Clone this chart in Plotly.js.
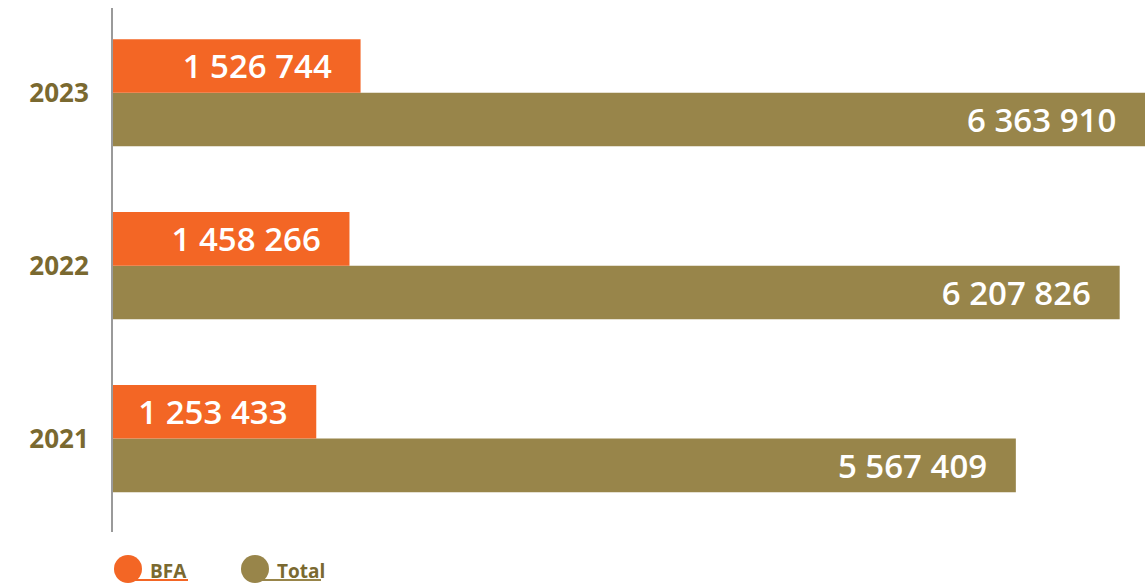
<!DOCTYPE html>
<html>
<head>
<meta charset="utf-8">
<script src="https://cdn.plot.ly/plotly-3.0.1.min.js"></script>
<style>html,body{margin:0;padding:0;background:#fff;}#chart{width:1145px;height:584px;}</style>
</head>
<body>
<div id="chart"></div>
<script>
const years = ['2021', '2022', '2023'];
const bfaValues = [1253433, 1458266, 1526744];
const totalValues = [5567409, 6207826, 6363910];
const seriesNames = ['BFA', 'Total'];

const ORANGE = '#F36625';
const OLIVE = '#98854A';
const DARK = '#7A6930';
const pad = '\u00a0\u00a0\u00a0';

const common = {
  type: 'bar', orientation: 'h', y: years,
  textposition: 'inside', insidetextanchor: 'end', textangle: 0,
  constraintext: 'none', cliponaxis: false,
  textfont: {family: 'Open Sans', size: 33, color: '#ffffff', weight: 600},
  hoverinfo: 'skip', showlegend: false
};

const traces = [
  Object.assign({}, common, {name: seriesNames[1], x: totalValues, marker: {color: OLIVE},
    texttemplate: '%{x:,d}' + pad}),
  Object.assign({}, common, {name: seriesNames[0], x: bfaValues, marker: {color: ORANGE},
    texttemplate: '%{x:,d}' + pad})
];

const W = 1032, H = 524, L = 113, T = 8;
const px = X => (X - L) / W;
const py = Y => (T + H - Y) / H;

const layout = {
  width: 1145, height: 584,
  margin: {l: 113, r: 0, t: 8, b: 52},
  paper_bgcolor: '#ffffff', plot_bgcolor: '#ffffff',
  barmode: 'group', bargap: 0.38, bargroupgap: 0,
  separators: '. ',
  xaxis: {range: [0, Math.max(...totalValues)], showgrid: false, zeroline: false,
    showticklabels: false, showline: false, fixedrange: true},
  yaxis: {type: 'category', range: [-0.54, 2.49], showgrid: false, zeroline: false,
    showline: true, linecolor: '#9a9a9a', linewidth: 2, ticks: '',
    ticklabelstandoff: 17,
    tickfont: {family: 'Open Sans', size: 26, color: DARK, weight: 700}},
  shapes: [
    {type: 'line', xref: 'paper', yref: 'paper', x0: px(128), x1: px(188), y0: py(580), y1: py(580),
      line: {color: ORANGE, width: 2}},
    {type: 'circle', xref: 'paper', yref: 'paper', x0: px(114), x1: px(142), y0: py(555), y1: py(583),
      fillcolor: ORANGE, line: {width: 0}},
    {type: 'line', xref: 'paper', yref: 'paper', x0: px(255), x1: px(321), y0: py(580), y1: py(580),
      line: {color: OLIVE, width: 2}},
    {type: 'circle', xref: 'paper', yref: 'paper', x0: px(241), x1: px(269), y0: py(555), y1: py(583),
      fillcolor: OLIVE, line: {width: 0}}
  ],
  annotations: [
    {xref: 'paper', yref: 'paper', x: px(148), y: py(571), xanchor: 'left', yanchor: 'middle',
      text: seriesNames[0], showarrow: false,
      font: {family: 'Open Sans', size: 19, color: DARK, weight: 700}},
    {xref: 'paper', yref: 'paper', x: px(275), y: py(571), xanchor: 'left', yanchor: 'middle',
      text: seriesNames[1], showarrow: false,
      font: {family: 'Open Sans', size: 19, color: DARK, weight: 700}}
  ]
};

Plotly.newPlot('chart', traces, layout, {displayModeBar: false, staticPlot: true});
</script>
</body>
</html>
